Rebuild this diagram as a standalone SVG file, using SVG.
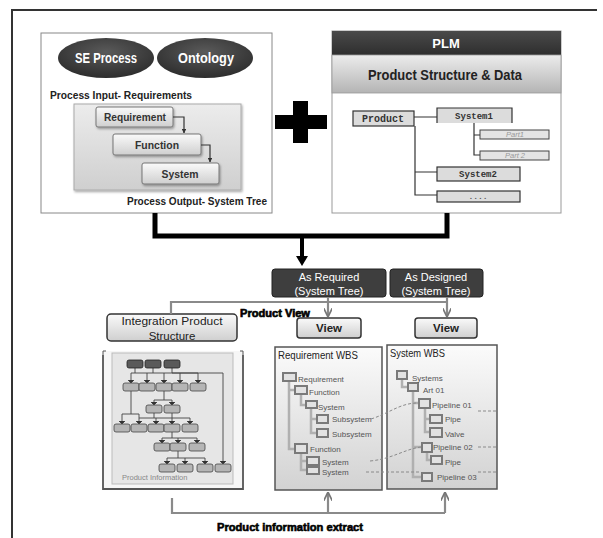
<svg xmlns="http://www.w3.org/2000/svg" width="603" height="538" viewBox="0 0 603 538">
<style>
text{font-family:"Liberation Sans","Noto Sans",Arial,sans-serif}
.b{font-weight:bold}
.w{fill:#fff}
.c{text-anchor:middle}
.mono{font-family:"Liberation Mono","DejaVu Sans Mono",monospace;font-weight:bold}
.tbox{fill:#dcdcdc;stroke:#333;stroke-width:1.2}
.tl{fill:none;stroke:#333;stroke-width:1.2}
.pb{fill:url(#boxG);stroke:#777;stroke-width:1;filter:url(#sh)}
.dk{fill:#3e3e3e;stroke:#222;stroke-width:1}
.btn{fill:url(#boxG);stroke:#333;stroke-width:1.5}
.wbs{fill:url(#wbsG);stroke:#555;stroke-width:1.5}
.wb{fill:#e2e2e2;stroke:#7a7a7a;stroke-width:2}
.wl{fill:none;stroke:#b0b0b0;stroke-width:2.5}
.wt{font-size:8px;fill:#555}
.mb{fill:#b5b5b5;stroke:#444;stroke-width:0.8}
.mbd{fill:#5a5a5a;stroke:#222;stroke-width:0.8}
.ml{fill:none;stroke:#444;stroke-width:0.9}
.dash{fill:none;stroke:#8a8a8a;stroke-width:1;stroke-dasharray:3 2}
.gl{fill:none;stroke:#8a8a8a;stroke-width:2.2}
.heavy{font-weight:900;stroke:#000;stroke-width:0.6}
</style>
<defs>
<linearGradient id="boxG" x1="0" y1="0" x2="0" y2="1"><stop offset="0" stop-color="#fafafa"/><stop offset="1" stop-color="#cfcfcf"/></linearGradient>
<linearGradient id="innerG" x1="0" y1="0" x2="0" y2="1"><stop offset="0" stop-color="#ececec"/><stop offset="1" stop-color="#cfcfcf"/></linearGradient>
<linearGradient id="bandG" x1="0" y1="0" x2="0" y2="1"><stop offset="0" stop-color="#ececec"/><stop offset="1" stop-color="#b4b4b4"/></linearGradient>
<linearGradient id="hdG" x1="0" y1="0" x2="0" y2="1"><stop offset="0" stop-color="#4a4a4a"/><stop offset="1" stop-color="#2e2e2e"/></linearGradient>
<linearGradient id="wbsG" x1="0" y1="0" x2="0" y2="1"><stop offset="0" stop-color="#fbfbfb"/><stop offset="1" stop-color="#d2d2d2"/></linearGradient>
<radialGradient id="ellG" cx="0.5" cy="0.35" r="0.7"><stop offset="0" stop-color="#5a5a5a"/><stop offset="1" stop-color="#2a2a2a"/></radialGradient>
<filter id="sh" x="-10%" y="-10%" width="130%" height="140%"><feDropShadow dx="1" dy="1.5" stdDeviation="1" flood-color="#000" flood-opacity="0.35"/></filter>
<marker id="aBlk" viewBox="0 0 10 10" refX="9" refY="5" markerWidth="5" markerHeight="5" orient="auto"><path d="M0 0 L10 5 L0 10 z" fill="#111"/></marker>
<marker id="aSm" viewBox="0 0 10 10" refX="9" refY="5" markerWidth="4" markerHeight="4" orient="auto"><path d="M0 0 L10 5 L0 10 z" fill="#333"/></marker>
<marker id="aGray" viewBox="0 0 10 10" refX="9" refY="5" markerWidth="4" markerHeight="4" orient="auto"><path d="M0 0 L10 5 L0 10" fill="none" stroke="#777" stroke-width="2"/></marker>
</defs>
<rect width="603" height="538" fill="#fff"/>

<g id="frame">
<path d="M12 538 V10 H597" fill="none" stroke="#333" stroke-width="2"/>
</g>

<g id="se-panel">
<rect x="41" y="33" width="231" height="180" fill="#fff" stroke="#888" stroke-width="1"/>
<ellipse cx="106" cy="58" rx="48" ry="20" fill="url(#ellG)"/>
<ellipse cx="205" cy="58" rx="48" ry="20" fill="url(#ellG)"/>
<text x="106" y="63" class="b w c" font-size="14" textLength="62" lengthAdjust="spacingAndGlyphs">SE Process</text>
<text x="206" y="63" class="b w c" font-size="14" textLength="56" lengthAdjust="spacingAndGlyphs">Ontology</text>
<text x="50" y="99" class="b" font-size="11" fill="#222" textLength="142" lengthAdjust="spacingAndGlyphs">Process Input- Requirements</text>
<rect x="74" y="104" width="167" height="86" fill="url(#innerG)" stroke="#aaa" stroke-width="1" filter="url(#sh)"/>
<rect x="96" y="107" width="77" height="20" rx="2" class="pb"/>
<text x="135" y="121" class="b c" font-size="11" fill="#333" textLength="62" lengthAdjust="spacingAndGlyphs">Requirement</text>
<rect x="113" y="134" width="88" height="21" rx="2" class="pb"/>
<text x="157" y="149" class="b c" font-size="11" fill="#333" textLength="44" lengthAdjust="spacingAndGlyphs">Function</text>
<rect x="142" y="163" width="77" height="21" rx="2" class="pb"/>
<text x="180" y="178" class="b c" font-size="11" fill="#333" textLength="37" lengthAdjust="spacingAndGlyphs">System</text>
<path d="M173 117 H184 V133" class="tl" marker-end="url(#aSm)"/>
<path d="M201 145 H210 V162" class="tl" marker-end="url(#aSm)"/>
<text x="127" y="205" class="b" font-size="11" fill="#222" textLength="140" lengthAdjust="spacingAndGlyphs">Process Output- System Tree</text>
</g>

<g id="plus">
<rect x="293" y="101" width="15" height="42" fill="#000"/>
<rect x="275" y="115" width="52" height="14" fill="#000"/>
</g>

<g id="plm-panel">
<rect x="332" y="31" width="229" height="182" fill="#fff" stroke="#999" stroke-width="1"/>
<rect x="332" y="31" width="229" height="24" fill="url(#hdG)"/>
<rect x="332" y="55" width="229" height="38" fill="url(#bandG)" stroke="#999" stroke-width="0.8"/>
<text x="446" y="48" class="b w c" font-size="13">PLM</text>
<text x="445" y="80" class="b c" font-size="14" fill="#222" textLength="154" lengthAdjust="spacingAndGlyphs">Product  Structure &amp; Data</text>
<rect x="353" y="111" width="61" height="15" class="tbox"/>
<text x="383" y="122" class="mono c" font-size="10" fill="#333">Product</text>
<rect x="437" y="108" width="75" height="15" fill="#dcdcdc"/>
<path d="M437 123 V108 H512 V123" class="tl"/>
<text x="474" y="119" class="mono c" font-size="9" fill="#333">System1</text>
<rect x="480" y="130" width="69" height="9" fill="#e4e4e4" stroke="#444" stroke-width="1"/>
<text x="515" y="137" class="c" font-size="7.5" font-style="italic" fill="#999" font-family="Liberation Mono,monospace">Part1</text>
<rect x="480" y="151" width="69" height="9" fill="#e4e4e4" stroke="#444" stroke-width="1"/>
<text x="515" y="158" class="c" font-size="7.5" font-style="italic" fill="#999" font-family="Liberation Mono,monospace">Part 2</text>
<rect x="437" y="167" width="83" height="14" class="tbox"/>
<text x="478" y="177" class="mono c" font-size="9" fill="#333">System2</text>
<rect x="437" y="191" width="83" height="11" class="tbox"/>
<text x="478" y="199" class="mono c" font-size="8" fill="#555">....</text>
<path d="M414 117 H437 M415 126 V195 H437 M415 172 H437 M474 123 V155 H480 M474 135 H480" class="tl"/>
</g>

<g id="as-required">
<rect x="272" y="269" width="114" height="28" rx="3" class="dk"/>
<text x="329" y="281" class="w c" font-size="11">As Required</text>
<text x="329" y="295" class="w c" font-size="11">(System Tree)</text>
</g>
<g id="as-designed">
<rect x="390" y="269" width="93" height="28" rx="3" class="dk"/>
<text x="436" y="281" class="w c" font-size="11">As Designed</text>
<text x="436" y="295" class="w c" font-size="11">(System Tree)</text>
</g>

<g id="integration">
<rect x="107" y="314" width="130" height="27" rx="4" class="btn"/>
<text x="172" y="325" class="c" font-size="11.5" fill="#222" textLength="101" lengthAdjust="spacingAndGlyphs">Integration Product</text>
<text x="172" y="340" class="c" font-size="11.5" fill="#222">Structure</text>
</g>
<g id="view1">
<rect x="297" y="318" width="64" height="20" rx="3" class="btn"/>
<text x="329" y="332" class="b c" font-size="11.5" fill="#222">View</text>
</g>
<g id="view2">
<rect x="415" y="318" width="62" height="20" rx="3" class="btn"/>
<text x="446" y="332" class="b c" font-size="11.5" fill="#222">View</text>
</g>

<g id="product-info-panel">
<rect x="103" y="351" width="140" height="138" fill="#f6f6f6"/>
<path d="M103 355 V489 H243 V355" fill="none" stroke="#555" stroke-width="1.8"/>
<path d="M103 355 V351 H106 M240 351 H243 V355" fill="none" stroke="#555" stroke-width="1"/>
<rect x="112" y="353" width="121" height="131" fill="#e6e6e6" stroke="#bbb" stroke-width="1"/>
<g>
<path d="M135 368 V373 M153 368 V373 M172 368 V373 M131 373 H198 M131 373 V382 M147 373 V382 M164 373 V382 M180 373 V382 M198 373 V382" class="ml"/>
<path d="M172 373 H223 V463" class="ml"/>
<path d="M164 391 V400 M154 400 H172 M154 400 V404 M172 400 V404" class="ml"/>
<path d="M131 391 V414 M122 414 H139 M122 414 V423 M139 414 V423" class="ml"/>
<path d="M154 413 V418 M172 413 V418 M139 418 H190 M156 418 V423 M172 418 V423 M190 418 V423" class="ml"/>
<path d="M172 432 V438 M162 438 H197 M162 438 V442 M178 438 V442 M197 438 V442" class="ml"/>
<path d="M178 451 V458 M167 458 H205 M167 458 V463 M185 458 V463 M205 458 V463" class="ml"/>
<path d="M128 380 L131 383 L134 380 M144 380 L147 383 L150 380 M161 380 L164 383 L167 380 M177 380 L180 383 L183 380 M195 380 L198 383 L201 380 M220 461 L223 464 L226 461 M151 402 L154 405 L157 402 M169 402 L172 405 L175 402 M119 421 L122 424 L125 421 M136 421 L139 424 L142 421 M153 421 L156 424 L159 421 M169 421 L172 424 L175 421 M187 421 L190 424 L193 421 M159 440 L162 443 L165 440 M175 440 L178 443 L181 440 M194 440 L197 443 L200 440 M164 461 L167 464 L170 461 M182 461 L185 464 L188 461 M202 461 L205 464 L208 461" fill="#333" stroke="#333" stroke-width="0.8"/>
<rect x="127" y="360" width="16" height="8" rx="2" class="mbd"/>
<rect x="145" y="360" width="16" height="8" rx="2" class="mbd"/>
<rect x="164" y="360" width="16" height="8" rx="2" class="mbd"/>
<rect x="123" y="383" width="16" height="8" rx="2" class="mb"/>
<rect x="139" y="383" width="16" height="8" rx="2" class="mb"/>
<rect x="156" y="383" width="16" height="8" rx="2" class="mb"/>
<rect x="172" y="383" width="16" height="8" rx="2" class="mb"/>
<rect x="190" y="383" width="16" height="8" rx="2" class="mb"/>
<rect x="146" y="405" width="16" height="8" rx="2" class="mb"/>
<rect x="164" y="405" width="16" height="8" rx="2" class="mb"/>
<rect x="114" y="424" width="16" height="8" rx="2" class="mb"/>
<rect x="131" y="424" width="16" height="8" rx="2" class="mb"/>
<rect x="148" y="424" width="16" height="8" rx="2" class="mb"/>
<rect x="164" y="424" width="16" height="8" rx="2" class="mb"/>
<rect x="182" y="424" width="16" height="8" rx="2" class="mb"/>
<rect x="154" y="443" width="16" height="8" rx="2" class="mb"/>
<rect x="170" y="443" width="16" height="8" rx="2" class="mb"/>
<rect x="189" y="443" width="16" height="8" rx="2" class="mb"/>
<rect x="159" y="464" width="16" height="8" rx="2" class="mb"/>
<rect x="177" y="464" width="16" height="8" rx="2" class="mb"/>
<rect x="197" y="464" width="16" height="8" rx="2" class="mb"/>
<rect x="215" y="464" width="16" height="8" rx="2" class="mb"/>
</g>
<text x="122" y="480" font-size="7.5" fill="#888">Product Information</text>
</g>

<g id="req-wbs">
<rect x="275" y="347" width="107" height="143" class="wbs"/>
<text x="278" y="359" font-size="10.5" fill="#222" textLength="80" lengthAdjust="spacingAndGlyphs">Requirement WBS</text>
<path d="M289 382 V449 H295 M289 390 H295 M301 394 V405 H306 M311 408 V433 H317 M311 419 H317 M301 453 V470 H307 M301 461 H307" class="wl"/>
<rect x="283" y="373" width="13" height="8" class="wb"/>
<rect x="295" y="386" width="12" height="8" class="wb"/>
<rect x="306" y="401" width="11" height="7" class="wb"/>
<rect x="317" y="415" width="11" height="8" class="wb"/>
<rect x="317" y="429" width="11" height="8" class="wb"/>
<rect x="295" y="444" width="12" height="9" class="wb"/>
<rect x="307" y="457" width="12" height="8" class="wb"/>
<rect x="307" y="467" width="12" height="7" class="wb"/>
<text x="298" y="382" class="wt">Requirement</text>
<text x="309" y="395" class="wt">Function</text>
<text x="318" y="410" class="wt">System</text>
<text x="332" y="422" class="wt">Subsystem</text>
<text x="332" y="437" class="wt">Subsystem</text>
<text x="310" y="452" class="wt">Function</text>
<text x="322" y="465" class="wt">System</text>
<text x="322" y="475" class="wt">System</text>
</g>

<g id="sys-wbs">
<rect x="387" y="345" width="110" height="144" class="wbs"/>
<text x="390" y="357" font-size="10.5" fill="#222" textLength="55" lengthAdjust="spacingAndGlyphs">System WBS</text>
<path d="M402 379 V387 H408 M413 391 V477 H422 M413 403 H419 M413 447 H422 M425 408 V432 H430 M425 419 H430 M427 452 V460 H431" class="wl"/>
<rect x="397" y="371" width="10" height="8" class="wb"/>
<rect x="408" y="383" width="10" height="8" class="wb"/>
<rect x="419" y="399" width="11" height="9" class="wb"/>
<rect x="430" y="415" width="12" height="8" class="wb"/>
<rect x="430" y="428" width="12" height="9" class="wb"/>
<rect x="422" y="443" width="10" height="9" class="wb"/>
<rect x="431" y="456" width="11" height="8" class="wb"/>
<rect x="422" y="473" width="10" height="8" class="wb"/>
<text x="412" y="381" class="wt">Systems</text>
<text x="423" y="393" class="wt">Art 01</text>
<text x="432" y="408" class="wt">Pipeline  01</text>
<text x="445" y="422" class="wt">Pipe</text>
<text x="445" y="437" class="wt">Valve</text>
<text x="433" y="450" class="wt">Pipeline  02</text>
<text x="445" y="465" class="wt">Pipe</text>
<text x="437" y="480" class="wt">Pipeline  03</text>
</g>

<g id="connectors">
<path d="M155 213 V236 H447 V213" fill="none" stroke="#000" stroke-width="5"/>
<path d="M302 236 V258" stroke="#000" stroke-width="4"/>
<path d="M296 256 H308 L302 266 z" fill="#000"/>
<path d="M171 314 V302 H448" class="gl"/>
<path d="M328 297 V316" class="gl" marker-end="url(#aGray)"/>
<path d="M447 297 V316" class="gl" marker-end="url(#aGray)"/>
<path d="M172 498 V513 H445" class="gl"/>
<path d="M328 513 V493" class="gl" marker-end="url(#aGray)"/>
<path d="M445 513 V493" class="gl" marker-end="url(#aGray)"/>
<path d="M371 419 C390 413 400 403 418 403" class="dash"/>
<path d="M370 461 C392 459 405 449 421 447" class="dash"/>
<path d="M366 472 H421" class="dash"/>
<path d="M478 411 H497 M478 447 H497 M478 472 H497" class="dash"/>
</g>

<g id="labels">
<text x="240" y="317" font-size="10" class="heavy" textLength="70" lengthAdjust="spacingAndGlyphs">Product View</text>
<text x="290" y="531" font-size="11" class="heavy c" textLength="146" lengthAdjust="spacingAndGlyphs">Product information extract</text>
</g>
</svg>
